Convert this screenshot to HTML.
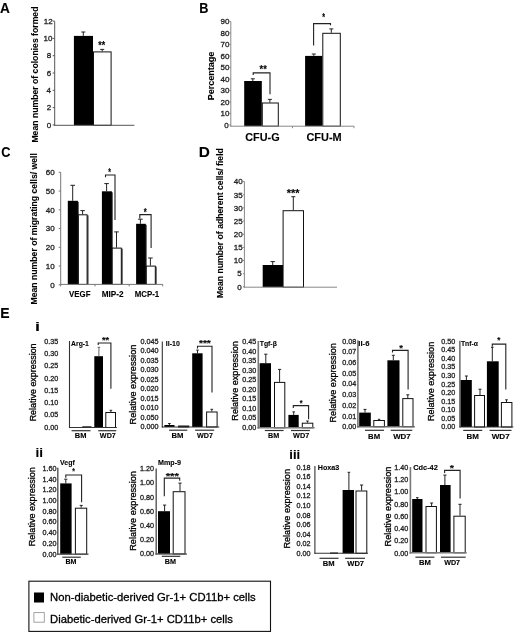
<!DOCTYPE html>
<html><head><meta charset="utf-8"><style>
html,body{margin:0;padding:0;background:#fff;}
svg{display:block;font-family:"Liberation Sans",sans-serif;will-change:transform;}
</style></head><body>
<svg width="520" height="632" viewBox="0 0 520 632">
<rect width="520" height="632" fill="#fff"/>
<text x="-0.09" y="13.27" font-size="14" font-weight="bold" fill="#000" textLength="9.9" lengthAdjust="spacingAndGlyphs" stroke="#000" stroke-width="0.1">A</text>
<text x="199.13" y="12.73" font-size="14" font-weight="bold" fill="#000" textLength="9.17" lengthAdjust="spacingAndGlyphs" stroke="#000" stroke-width="0.1">B</text>
<text x="1.35" y="156.82" font-size="14" font-weight="bold" fill="#000" textLength="9.23" lengthAdjust="spacingAndGlyphs" stroke="#000" stroke-width="0.1">C</text>
<text x="198.86" y="157.12" font-size="14" font-weight="bold" fill="#000" textLength="11.1" lengthAdjust="spacingAndGlyphs" stroke="#000" stroke-width="0.1">D</text>
<text x="0.35" y="317.57" font-size="14" font-weight="bold" fill="#000" textLength="9.34" lengthAdjust="spacingAndGlyphs" stroke="#000" stroke-width="0.1">E</text>
<text x="35" y="330.65" font-size="13" font-weight="bold" fill="#000" textLength="5.02" lengthAdjust="spacingAndGlyphs" stroke="#000" stroke-width="0.1">i</text>
<text x="35.52" y="456.75" font-size="13" font-weight="bold" fill="#000" textLength="7.49" lengthAdjust="spacingAndGlyphs" stroke="#000" stroke-width="0.1">ii</text>
<text x="289.35" y="459.2" font-size="13" font-weight="bold" fill="#000" textLength="10.84" lengthAdjust="spacingAndGlyphs" stroke="#000" stroke-width="0.1">iii</text>
<text x="43.7" y="23.9" font-size="8" fill="#222" stroke="#222" stroke-width="0.3">12</text>
<line x1="52.7" y1="21.1" x2="54.7" y2="21.1" stroke="#555" stroke-width="1"/>
<text x="43.6" y="41.15" font-size="8" fill="#222" stroke="#222" stroke-width="0.3">10</text>
<line x1="52.7" y1="38.4" x2="54.7" y2="38.4" stroke="#555" stroke-width="1"/>
<text x="46.65" y="58.45" font-size="8" fill="#222" stroke="#222" stroke-width="0.3">8</text>
<line x1="52.7" y1="55.7" x2="54.7" y2="55.7" stroke="#555" stroke-width="1"/>
<text x="46.7" y="75.75" font-size="8" fill="#222" stroke="#222" stroke-width="0.3">6</text>
<line x1="52.7" y1="73" x2="54.7" y2="73" stroke="#555" stroke-width="1"/>
<text x="46.55" y="93.05" font-size="8" fill="#222" stroke="#222" stroke-width="0.3">4</text>
<line x1="52.7" y1="90.3" x2="54.7" y2="90.3" stroke="#555" stroke-width="1"/>
<text x="46.75" y="110.4" font-size="8" fill="#222" stroke="#222" stroke-width="0.3">2</text>
<line x1="52.7" y1="107.6" x2="54.7" y2="107.6" stroke="#555" stroke-width="1"/>
<text x="46.65" y="127.65" font-size="8" fill="#222" stroke="#222" stroke-width="0.3">0</text>
<line x1="52.7" y1="124.9" x2="54.7" y2="124.9" stroke="#555" stroke-width="1"/>
<rect x="73.9" y="35.9" width="19.1" height="89.4" fill="#000"/>
<rect x="93.5" y="51.9" width="17.6" height="73.4" fill="#fff" stroke="#111" stroke-width="1"/>
<line x1="83.3" y1="32" x2="83.3" y2="35.9" stroke="#222" stroke-width="1"/>
<line x1="81.3" y1="32" x2="85.3" y2="32" stroke="#222" stroke-width="1"/>
<line x1="102.2" y1="49.4" x2="102.2" y2="51.4" stroke="#222" stroke-width="1"/>
<line x1="100.2" y1="49.4" x2="104.2" y2="49.4" stroke="#222" stroke-width="1"/>
<line x1="54.7" y1="21.3" x2="54.7" y2="125.8" stroke="#555" stroke-width="1"/>
<line x1="54.2" y1="125.3" x2="134.4" y2="125.3" stroke="#555" stroke-width="1"/>
<text x="98.25" y="48.65" font-size="10" font-weight="bold" fill="#000" textLength="6.88" lengthAdjust="spacingAndGlyphs" stroke="#000" stroke-width="0.1">**</text>
<text transform="translate(37.65 142.59) rotate(-90)" font-size="8.8" font-weight="bold" fill="#000" textLength="136.01" lengthAdjust="spacingAndGlyphs" stroke="#000" stroke-width="0.1">Mean number of colonies formed</text>
<text x="220.6" y="24.25" font-size="8" fill="#222" stroke="#222" stroke-width="0.3">90</text>
<line x1="229.3" y1="21.5" x2="230.8" y2="21.5" stroke="#888" stroke-width="1"/>
<text x="220.6" y="35.75" font-size="8" fill="#222" stroke="#222" stroke-width="0.3">80</text>
<line x1="229.3" y1="33" x2="230.8" y2="33" stroke="#888" stroke-width="1"/>
<text x="220.6" y="47.25" font-size="8" fill="#222" stroke="#222" stroke-width="0.3">70</text>
<line x1="229.3" y1="44.5" x2="230.8" y2="44.5" stroke="#888" stroke-width="1"/>
<text x="220.6" y="58.75" font-size="8" fill="#222" stroke="#222" stroke-width="0.3">60</text>
<line x1="229.3" y1="56" x2="230.8" y2="56" stroke="#888" stroke-width="1"/>
<text x="220.6" y="70.25" font-size="8" fill="#222" stroke="#222" stroke-width="0.3">50</text>
<line x1="229.3" y1="67.5" x2="230.8" y2="67.5" stroke="#888" stroke-width="1"/>
<text x="220.6" y="81.75" font-size="8" fill="#222" stroke="#222" stroke-width="0.3">40</text>
<line x1="229.3" y1="79" x2="230.8" y2="79" stroke="#888" stroke-width="1"/>
<text x="220.6" y="93.25" font-size="8" fill="#222" stroke="#222" stroke-width="0.3">30</text>
<line x1="229.3" y1="90.5" x2="230.8" y2="90.5" stroke="#888" stroke-width="1"/>
<text x="220.6" y="104.75" font-size="8" fill="#222" stroke="#222" stroke-width="0.3">20</text>
<line x1="229.3" y1="102" x2="230.8" y2="102" stroke="#888" stroke-width="1"/>
<text x="220.6" y="116.25" font-size="8" fill="#222" stroke="#222" stroke-width="0.3">10</text>
<line x1="229.3" y1="113.5" x2="230.8" y2="113.5" stroke="#888" stroke-width="1"/>
<text x="224.25" y="127.75" font-size="8" fill="#222" stroke="#222" stroke-width="0.3">0</text>
<line x1="229.3" y1="125" x2="230.8" y2="125" stroke="#888" stroke-width="1"/>
<rect x="244.2" y="81" width="17.6" height="45.2" fill="#000"/>
<rect x="262.3" y="103" width="16" height="23.2" fill="#fff" stroke="#111" stroke-width="1"/>
<rect x="305.1" y="55.9" width="17.2" height="70.3" fill="#000"/>
<rect x="322.8" y="33.3" width="17.5" height="92.9" fill="#fff" stroke="#111" stroke-width="1"/>
<line x1="252.8" y1="78.8" x2="252.8" y2="81" stroke="#222" stroke-width="1"/>
<line x1="250.8" y1="78.8" x2="254.8" y2="78.8" stroke="#222" stroke-width="1"/>
<line x1="269.9" y1="99.4" x2="269.9" y2="102.5" stroke="#222" stroke-width="1"/>
<line x1="267.9" y1="99.4" x2="271.9" y2="99.4" stroke="#222" stroke-width="1"/>
<line x1="313.8" y1="54" x2="313.8" y2="55.9" stroke="#222" stroke-width="1"/>
<line x1="311.8" y1="54" x2="315.8" y2="54" stroke="#222" stroke-width="1"/>
<line x1="331.3" y1="28.9" x2="331.3" y2="32.8" stroke="#222" stroke-width="1"/>
<line x1="329.3" y1="28.9" x2="333.3" y2="28.9" stroke="#222" stroke-width="1"/>
<line x1="230.8" y1="21.5" x2="230.8" y2="126.7" stroke="#888" stroke-width="1"/>
<line x1="230.3" y1="126.2" x2="354" y2="126.2" stroke="#888" stroke-width="1"/>
<line x1="292.5" y1="126.2" x2="292.5" y2="128.2" stroke="#888" stroke-width="1"/>
<line x1="354" y1="126.2" x2="354" y2="128.2" stroke="#888" stroke-width="1"/>
<polyline points="253.2,75 253.2,72.9 270,72.9 270,94.3" fill="none" stroke="#222" stroke-width="1.1"/>
<polyline points="313.6,45.4 313.6,23.6 330.5,23.6 330.5,25.2" fill="none" stroke="#222" stroke-width="1.1"/>
<text x="259.55" y="73.3" font-size="10" font-weight="bold" fill="#000" textLength="7.18" lengthAdjust="spacingAndGlyphs" stroke="#000" stroke-width="0.1">**</text>
<text x="322.25" y="21.25" font-size="10" font-weight="bold" fill="#000" textLength="2.79" lengthAdjust="spacingAndGlyphs" stroke="#000" stroke-width="0.1">*</text>
<text transform="translate(214.45 100.24) rotate(-90)" font-size="9.2" font-weight="bold" fill="#000" textLength="48.64" lengthAdjust="spacingAndGlyphs" stroke="#000" stroke-width="0.1">Percentage</text>
<text x="245.24" y="140.52" font-size="10.5" font-weight="bold" fill="#000" textLength="34.43" lengthAdjust="spacingAndGlyphs" stroke="#000" stroke-width="0.1">CFU-G</text>
<text x="306.43" y="140.52" font-size="10.5" font-weight="bold" fill="#000" textLength="35.22" lengthAdjust="spacingAndGlyphs" stroke="#000" stroke-width="0.1">CFU-M</text>
<text x="45.8" y="175.05" font-size="8" fill="#222" stroke="#222" stroke-width="0.3">60</text>
<line x1="58.7" y1="172.3" x2="60.7" y2="172.3" stroke="#777" stroke-width="1"/>
<text x="45.8" y="193.8" font-size="8" fill="#222" stroke="#222" stroke-width="0.3">50</text>
<line x1="58.7" y1="191.05" x2="60.7" y2="191.05" stroke="#777" stroke-width="1"/>
<text x="45.8" y="212.55" font-size="8" fill="#222" stroke="#222" stroke-width="0.3">40</text>
<line x1="58.7" y1="209.8" x2="60.7" y2="209.8" stroke="#777" stroke-width="1"/>
<text x="45.8" y="231.3" font-size="8" fill="#222" stroke="#222" stroke-width="0.3">30</text>
<line x1="58.7" y1="228.55" x2="60.7" y2="228.55" stroke="#777" stroke-width="1"/>
<text x="45.8" y="250.05" font-size="8" fill="#222" stroke="#222" stroke-width="0.3">20</text>
<line x1="58.7" y1="247.3" x2="60.7" y2="247.3" stroke="#777" stroke-width="1"/>
<text x="45.8" y="268.8" font-size="8" fill="#222" stroke="#222" stroke-width="0.3">10</text>
<line x1="58.7" y1="266.05" x2="60.7" y2="266.05" stroke="#777" stroke-width="1"/>
<text x="50.25" y="287.55" font-size="8" fill="#222" stroke="#222" stroke-width="0.3">0</text>
<line x1="58.7" y1="284.8" x2="60.7" y2="284.8" stroke="#777" stroke-width="1"/>
<rect x="68.8" y="201.8" width="10.1" height="82.6" fill="#555"/>
<rect x="67.8" y="200.8" width="10.1" height="83.6" fill="#000"/>
<rect x="78.9" y="215.3" width="9.7" height="69.1" fill="#555"/>
<rect x="78.4" y="214.8" width="8.7" height="69.6" fill="#fff" stroke="#111" stroke-width="1"/>
<rect x="102.9" y="192.3" width="10" height="92.1" fill="#555"/>
<rect x="101.9" y="191.3" width="10" height="93.1" fill="#000"/>
<rect x="112.7" y="248.6" width="10.1" height="35.8" fill="#555"/>
<rect x="112.2" y="248.1" width="9.1" height="36.3" fill="#fff" stroke="#111" stroke-width="1"/>
<rect x="137.1" y="224.8" width="9.7" height="59.6" fill="#555"/>
<rect x="136.1" y="223.8" width="9.7" height="60.6" fill="#000"/>
<rect x="146.8" y="266.6" width="10" height="17.8" fill="#555"/>
<rect x="146.3" y="266.1" width="9" height="18.3" fill="#fff" stroke="#111" stroke-width="1"/>
<line x1="72.7" y1="185.3" x2="72.7" y2="200.8" stroke="#222" stroke-width="1"/>
<line x1="70.4" y1="185.3" x2="75" y2="185.3" stroke="#222" stroke-width="1"/>
<line x1="82.6" y1="210.6" x2="82.6" y2="214.3" stroke="#222" stroke-width="1"/>
<line x1="80.4" y1="210.6" x2="84.8" y2="210.6" stroke="#222" stroke-width="1"/>
<line x1="106.6" y1="183.6" x2="106.6" y2="191.3" stroke="#222" stroke-width="1"/>
<line x1="104.3" y1="183.6" x2="108.9" y2="183.6" stroke="#222" stroke-width="1"/>
<line x1="116.5" y1="231.9" x2="116.5" y2="247.6" stroke="#222" stroke-width="1"/>
<line x1="114.2" y1="231.9" x2="118.8" y2="231.9" stroke="#222" stroke-width="1"/>
<line x1="140.4" y1="219.2" x2="140.4" y2="223.8" stroke="#222" stroke-width="1"/>
<line x1="138.1" y1="219.2" x2="142.7" y2="219.2" stroke="#222" stroke-width="1"/>
<line x1="150.4" y1="258" x2="150.4" y2="265.6" stroke="#222" stroke-width="1"/>
<line x1="148.1" y1="258" x2="152.7" y2="258" stroke="#222" stroke-width="1"/>
<line x1="60.7" y1="172.3" x2="60.7" y2="284.9" stroke="#777" stroke-width="1"/>
<line x1="60.2" y1="284.4" x2="162.7" y2="284.4" stroke="#777" stroke-width="1"/>
<line x1="60.7" y1="284.4" x2="60.7" y2="286.4" stroke="#777" stroke-width="1"/>
<line x1="95" y1="284.4" x2="95" y2="286.4" stroke="#777" stroke-width="1"/>
<line x1="129.2" y1="284.4" x2="129.2" y2="286.4" stroke="#777" stroke-width="1"/>
<line x1="162.7" y1="284.4" x2="162.7" y2="286.4" stroke="#777" stroke-width="1"/>
<polyline points="105.5,177.2 105.5,175 115,175 115,220" fill="none" stroke="#222" stroke-width="1.1"/>
<polyline points="139.8,218.5 139.8,214.6 151.1,214.6 151.1,248" fill="none" stroke="#222" stroke-width="1.1"/>
<text x="108.25" y="176.35" font-size="10" font-weight="bold" fill="#000" textLength="2.69" lengthAdjust="spacingAndGlyphs" stroke="#000" stroke-width="0.1">*</text>
<text x="143.75" y="215.6" font-size="10" font-weight="bold" fill="#000" textLength="2.99" lengthAdjust="spacingAndGlyphs" stroke="#000" stroke-width="0.1">*</text>
<text transform="translate(36.95 304.49) rotate(-90)" font-size="8.8" font-weight="bold" fill="#000" textLength="151.42" lengthAdjust="spacingAndGlyphs" stroke="#000" stroke-width="0.1">Mean number of migrating cells/ well</text>
<text x="69.11" y="296.92" font-size="8.8" font-weight="bold" fill="#000" textLength="21.38" lengthAdjust="spacingAndGlyphs" stroke="#000" stroke-width="0.1">VEGF</text>
<text x="101.64" y="297.32" font-size="8.8" font-weight="bold" fill="#000" textLength="21.91" lengthAdjust="spacingAndGlyphs" stroke="#000" stroke-width="0.1">MIP-2</text>
<text x="134.76" y="297.27" font-size="8.8" font-weight="bold" fill="#000" textLength="24.5" lengthAdjust="spacingAndGlyphs" stroke="#000" stroke-width="0.1">MCP-1</text>
<text x="233.7" y="184.35" font-size="8" fill="#222" stroke="#222" stroke-width="0.3">40</text>
<line x1="242.9" y1="181.6" x2="244.4" y2="181.6" stroke="#888" stroke-width="1"/>
<text x="233.7" y="197.5" font-size="8" fill="#222" stroke="#222" stroke-width="0.3">35</text>
<line x1="242.9" y1="194.75" x2="244.4" y2="194.75" stroke="#888" stroke-width="1"/>
<text x="233.7" y="210.65" font-size="8" fill="#222" stroke="#222" stroke-width="0.3">30</text>
<line x1="242.9" y1="207.9" x2="244.4" y2="207.9" stroke="#888" stroke-width="1"/>
<text x="233.7" y="223.8" font-size="8" fill="#222" stroke="#222" stroke-width="0.3">25</text>
<line x1="242.9" y1="221.05" x2="244.4" y2="221.05" stroke="#888" stroke-width="1"/>
<text x="233.7" y="236.95" font-size="8" fill="#222" stroke="#222" stroke-width="0.3">20</text>
<line x1="242.9" y1="234.2" x2="244.4" y2="234.2" stroke="#888" stroke-width="1"/>
<text x="233.7" y="250.05" font-size="8" fill="#222" stroke="#222" stroke-width="0.3">15</text>
<line x1="242.9" y1="247.35" x2="244.4" y2="247.35" stroke="#888" stroke-width="1"/>
<text x="233.7" y="263.25" font-size="8" fill="#222" stroke="#222" stroke-width="0.3">10</text>
<line x1="242.9" y1="260.5" x2="244.4" y2="260.5" stroke="#888" stroke-width="1"/>
<text x="237.15" y="276.35" font-size="8" fill="#222" stroke="#222" stroke-width="0.3">5</text>
<line x1="242.9" y1="273.65" x2="244.4" y2="273.65" stroke="#888" stroke-width="1"/>
<text x="237.15" y="289.55" font-size="8" fill="#222" stroke="#222" stroke-width="0.3">0</text>
<line x1="242.9" y1="286.8" x2="244.4" y2="286.8" stroke="#888" stroke-width="1"/>
<rect x="262.7" y="265" width="20.3" height="22.2" fill="#000"/>
<rect x="283.1" y="210.7" width="20.4" height="76.5" fill="#fff" stroke="#111" stroke-width="1"/>
<line x1="272.7" y1="261.6" x2="272.7" y2="265" stroke="#222" stroke-width="1"/>
<line x1="270.5" y1="261.6" x2="274.9" y2="261.6" stroke="#222" stroke-width="1"/>
<line x1="293.3" y1="196.7" x2="293.3" y2="210.2" stroke="#222" stroke-width="1"/>
<line x1="291.3" y1="196.7" x2="295.3" y2="196.7" stroke="#222" stroke-width="1"/>
<line x1="244.4" y1="181.5" x2="244.4" y2="287.7" stroke="#888" stroke-width="1"/>
<line x1="243.9" y1="287.2" x2="337" y2="287.2" stroke="#888" stroke-width="1"/>
<text x="286.75" y="197.05" font-size="10" font-weight="bold" fill="#000" textLength="12.87" lengthAdjust="spacingAndGlyphs" stroke="#000" stroke-width="0.1">***</text>
<text transform="translate(223.25 297.99) rotate(-90)" font-size="8.8" font-weight="bold" fill="#000" textLength="149.81" lengthAdjust="spacingAndGlyphs" stroke="#000" stroke-width="0.1">Mean number of adherent cells/ field</text>
<text x="44.15" y="344" font-size="7.2" fill="#222" stroke="#222" stroke-width="0.3">0.35</text>
<text x="44.15" y="356.24" font-size="7.2" fill="#222" stroke="#222" stroke-width="0.3">0.30</text>
<text x="44.15" y="368.49" font-size="7.2" fill="#222" stroke="#222" stroke-width="0.3">0.25</text>
<text x="44.15" y="380.73" font-size="7.2" fill="#222" stroke="#222" stroke-width="0.3">0.20</text>
<text x="44.15" y="392.97" font-size="7.2" fill="#222" stroke="#222" stroke-width="0.3">0.15</text>
<text x="44.15" y="405.21" font-size="7.2" fill="#222" stroke="#222" stroke-width="0.3">0.10</text>
<text x="44.15" y="417.46" font-size="7.2" fill="#222" stroke="#222" stroke-width="0.3">0.05</text>
<text x="44.15" y="429.7" font-size="7.2" fill="#222" stroke="#222" stroke-width="0.3">0.00</text>
<rect x="82.8" y="426.8" width="8.2" height="0.7" fill="#fff" stroke="#111" stroke-width="1"/>
<rect x="94.3" y="356.2" width="8.7" height="71.3" fill="#000"/>
<rect x="105.8" y="412.5" width="9.7" height="15" fill="#fff" stroke="#111" stroke-width="1"/>
<line x1="98.9" y1="347.3" x2="98.9" y2="356.2" stroke="#666" stroke-width="1"/>
<line x1="97.6" y1="347.3" x2="100.2" y2="347.3" stroke="#666" stroke-width="1"/>
<line x1="110.9" y1="410.3" x2="110.9" y2="412" stroke="#222" stroke-width="1"/>
<line x1="109.6" y1="410.3" x2="112.2" y2="410.3" stroke="#222" stroke-width="1"/>
<line x1="69.5" y1="341" x2="69.5" y2="428.05" stroke="#333" stroke-width="1.1"/>
<line x1="68.95" y1="427.5" x2="116.9" y2="427.5" stroke="#333" stroke-width="1.1"/>
<polyline points="98.2,345 98.2,343 110.9,343 110.9,388.7" fill="none" stroke="#222" stroke-width="1.1"/>
<text x="101.95" y="343.42" font-size="9" font-weight="bold" fill="#000" textLength="7.2" lengthAdjust="spacingAndGlyphs" stroke="#000" stroke-width="0.1">**</text>
<text x="71.1" y="345.7" font-size="7" font-weight="bold" fill="#000" textLength="17.82" lengthAdjust="spacingAndGlyphs" stroke="#000" stroke-width="0.1">Arg-1</text>
<text x="74.77" y="437.95" font-size="7" font-weight="bold" fill="#000" textLength="11.65" lengthAdjust="spacingAndGlyphs" stroke="#000" stroke-width="0.1">BM</text>
<text x="99.85" y="438" font-size="7" font-weight="bold" fill="#000" textLength="16.01" lengthAdjust="spacingAndGlyphs" stroke="#000" stroke-width="0.1">WD7</text>
<text transform="translate(35.55 421.34) rotate(-90)" font-size="9" font-weight="normal" fill="#000" textLength="77.93" lengthAdjust="spacingAndGlyphs" stroke="#000" stroke-width="0.3">Relative expression</text>
<line x1="71.6" y1="430.7" x2="90.5" y2="430.7" stroke="#333" stroke-width="1.2"/>
<line x1="98.2" y1="430.7" x2="116.3" y2="430.7" stroke="#333" stroke-width="1.2"/>
<text x="140.45" y="343.8" font-size="7.2" fill="#222" stroke="#222" stroke-width="0.3">0.045</text>
<text x="140.45" y="353.3" font-size="7.2" fill="#222" stroke="#222" stroke-width="0.3">0.040</text>
<text x="140.45" y="362.8" font-size="7.2" fill="#222" stroke="#222" stroke-width="0.3">0.035</text>
<text x="140.45" y="372.3" font-size="7.2" fill="#222" stroke="#222" stroke-width="0.3">0.030</text>
<text x="140.45" y="381.8" font-size="7.2" fill="#222" stroke="#222" stroke-width="0.3">0.025</text>
<text x="140.45" y="391.3" font-size="7.2" fill="#222" stroke="#222" stroke-width="0.3">0.020</text>
<text x="140.45" y="400.8" font-size="7.2" fill="#222" stroke="#222" stroke-width="0.3">0.015</text>
<text x="140.45" y="410.3" font-size="7.2" fill="#222" stroke="#222" stroke-width="0.3">0.010</text>
<text x="140.45" y="419.8" font-size="7.2" fill="#222" stroke="#222" stroke-width="0.3">0.050</text>
<text x="140.45" y="429.3" font-size="7.2" fill="#222" stroke="#222" stroke-width="0.3">0.000</text>
<rect x="164.4" y="425" width="10.1" height="2" fill="#000"/>
<rect x="178.6" y="426" width="10.2" height="1" fill="#fff" stroke="#111" stroke-width="1"/>
<rect x="192.2" y="353.3" width="10.4" height="73.7" fill="#000"/>
<rect x="206.6" y="412" width="10.5" height="15" fill="#fff" stroke="#111" stroke-width="1"/>
<line x1="169.4" y1="423.5" x2="169.4" y2="425" stroke="#222" stroke-width="1"/>
<line x1="168.1" y1="423.5" x2="170.7" y2="423.5" stroke="#222" stroke-width="1"/>
<line x1="197.5" y1="350.1" x2="197.5" y2="353.3" stroke="#222" stroke-width="1"/>
<line x1="196.2" y1="350.1" x2="198.8" y2="350.1" stroke="#222" stroke-width="1"/>
<line x1="211.8" y1="409.3" x2="211.8" y2="411.5" stroke="#222" stroke-width="1"/>
<line x1="210.5" y1="409.3" x2="213.1" y2="409.3" stroke="#222" stroke-width="1"/>
<line x1="162.3" y1="341.5" x2="162.3" y2="427.55" stroke="#333" stroke-width="1.1"/>
<line x1="161.75" y1="427" x2="219.3" y2="427" stroke="#333" stroke-width="1.1"/>
<polyline points="197.5,348.5 197.5,346.3 212,346.3 212,392.5" fill="none" stroke="#222" stroke-width="1.1"/>
<text x="198.95" y="346.17" font-size="9" font-weight="bold" fill="#000" textLength="11.91" lengthAdjust="spacingAndGlyphs" stroke="#000" stroke-width="0.1">***</text>
<text x="165.8" y="346.05" font-size="7" font-weight="bold" fill="#000" textLength="14.01" lengthAdjust="spacingAndGlyphs" stroke="#000" stroke-width="0.1">Il-10</text>
<text x="171.56" y="437.85" font-size="7" font-weight="bold" fill="#000" textLength="11.98" lengthAdjust="spacingAndGlyphs" stroke="#000" stroke-width="0.1">BM</text>
<text x="196.95" y="437.85" font-size="7" font-weight="bold" fill="#000" textLength="16.01" lengthAdjust="spacingAndGlyphs" stroke="#000" stroke-width="0.1">WD7</text>
<text transform="translate(135.55 424.46) rotate(-90)" font-size="9" font-weight="normal" fill="#000" textLength="79.76" lengthAdjust="spacingAndGlyphs" stroke="#000" stroke-width="0.3">Relative expression</text>
<line x1="169.1" y1="430.2" x2="187.3" y2="430.2" stroke="#333" stroke-width="1.2"/>
<line x1="195.1" y1="430.2" x2="214.2" y2="430.2" stroke="#333" stroke-width="1.2"/>
<text x="242.25" y="344" font-size="7.2" fill="#222" stroke="#222" stroke-width="0.3">0.45</text>
<text x="242.25" y="353.5" font-size="7.2" fill="#222" stroke="#222" stroke-width="0.3">0.40</text>
<text x="242.25" y="363" font-size="7.2" fill="#222" stroke="#222" stroke-width="0.3">0.35</text>
<text x="242.25" y="372.5" font-size="7.2" fill="#222" stroke="#222" stroke-width="0.3">0.30</text>
<text x="242.25" y="382" font-size="7.2" fill="#222" stroke="#222" stroke-width="0.3">0.25</text>
<text x="242.25" y="391.5" font-size="7.2" fill="#222" stroke="#222" stroke-width="0.3">0.20</text>
<text x="242.25" y="401" font-size="7.2" fill="#222" stroke="#222" stroke-width="0.3">0.15</text>
<text x="242.25" y="410.5" font-size="7.2" fill="#222" stroke="#222" stroke-width="0.3">0.10</text>
<text x="242.25" y="420" font-size="7.2" fill="#222" stroke="#222" stroke-width="0.3">0.05</text>
<text x="242.25" y="429.5" font-size="7.2" fill="#222" stroke="#222" stroke-width="0.3">0.00</text>
<rect x="259.6" y="363.2" width="11.4" height="64.6" fill="#000"/>
<rect x="274.5" y="382.4" width="10.3" height="45.4" fill="#fff" stroke="#111" stroke-width="1"/>
<rect x="288.4" y="414.9" width="10.3" height="12.9" fill="#000"/>
<rect x="302.3" y="423.2" width="10.5" height="4.6" fill="#fff" stroke="#111" stroke-width="1"/>
<line x1="265.8" y1="354.2" x2="265.8" y2="363.2" stroke="#222" stroke-width="1"/>
<line x1="264.2" y1="354.2" x2="267.4" y2="354.2" stroke="#222" stroke-width="1"/>
<line x1="279.6" y1="369.4" x2="279.6" y2="381.9" stroke="#222" stroke-width="1"/>
<line x1="278" y1="369.4" x2="281.2" y2="369.4" stroke="#222" stroke-width="1"/>
<line x1="293.7" y1="411.9" x2="293.7" y2="414.9" stroke="#222" stroke-width="1"/>
<line x1="292.4" y1="411.9" x2="295" y2="411.9" stroke="#222" stroke-width="1"/>
<line x1="307.5" y1="421" x2="307.5" y2="422.7" stroke="#222" stroke-width="1"/>
<line x1="306.2" y1="421" x2="308.8" y2="421" stroke="#222" stroke-width="1"/>
<line x1="258.3" y1="341" x2="258.3" y2="428.6" stroke="#777" stroke-width="1.6"/>
<line x1="257.5" y1="427.8" x2="314.6" y2="427.8" stroke="#777" stroke-width="1.6"/>
<polyline points="293.3,407.9 293.3,405.6 308.6,405.6 308.6,419.3" fill="none" stroke="#222" stroke-width="1.1"/>
<text x="299.75" y="405.82" font-size="9" font-weight="bold" fill="#000" textLength="2.8" lengthAdjust="spacingAndGlyphs" stroke="#000" stroke-width="0.1">*</text>
<text x="259.7" y="345.73" font-size="7" font-weight="bold" fill="#000" textLength="17.18" lengthAdjust="spacingAndGlyphs" stroke="#000" stroke-width="0.1">Tgf-β</text>
<text x="267.99" y="438.25" font-size="7" font-weight="bold" fill="#000" textLength="11.21" lengthAdjust="spacingAndGlyphs" stroke="#000" stroke-width="0.1">BM</text>
<text x="293.05" y="438.25" font-size="7" font-weight="bold" fill="#000" textLength="16.22" lengthAdjust="spacingAndGlyphs" stroke="#000" stroke-width="0.1">WD7</text>
<text transform="translate(237.75 420.66) rotate(-90)" font-size="9" font-weight="normal" fill="#000" textLength="79.45" lengthAdjust="spacingAndGlyphs" stroke="#000" stroke-width="0.3">Relative expression</text>
<line x1="264.8" y1="430.5" x2="283.6" y2="430.5" stroke="#333" stroke-width="1.2"/>
<line x1="291" y1="430.5" x2="309.9" y2="430.5" stroke="#333" stroke-width="1.2"/>
<text x="342.3" y="343.6" font-size="7.2" fill="#222" stroke="#222" stroke-width="0.3">0.08</text>
<text x="342.35" y="354.3" font-size="7.2" fill="#222" stroke="#222" stroke-width="0.3">0.07</text>
<text x="342.3" y="365" font-size="7.2" fill="#222" stroke="#222" stroke-width="0.3">0.06</text>
<text x="342.25" y="375.7" font-size="7.2" fill="#222" stroke="#222" stroke-width="0.3">0.05</text>
<text x="342.2" y="386.4" font-size="7.2" fill="#222" stroke="#222" stroke-width="0.3">0.04</text>
<text x="342.3" y="397.1" font-size="7.2" fill="#222" stroke="#222" stroke-width="0.3">0.03</text>
<text x="342.35" y="407.8" font-size="7.2" fill="#222" stroke="#222" stroke-width="0.3">0.02</text>
<text x="342.3" y="418.5" font-size="7.2" fill="#222" stroke="#222" stroke-width="0.3">0.01</text>
<text x="342.25" y="429.2" font-size="7.2" fill="#222" stroke="#222" stroke-width="0.3">0.00</text>
<rect x="359.2" y="412.6" width="11.6" height="14.1" fill="#000"/>
<rect x="373.8" y="420.5" width="10.6" height="6.2" fill="#fff" stroke="#111" stroke-width="1"/>
<rect x="387.4" y="360.3" width="12.1" height="66.4" fill="#000"/>
<rect x="402.8" y="398.6" width="10.2" height="28.1" fill="#fff" stroke="#111" stroke-width="1"/>
<line x1="365" y1="409.4" x2="365" y2="412.6" stroke="#222" stroke-width="1"/>
<line x1="363.5" y1="409.4" x2="366.5" y2="409.4" stroke="#222" stroke-width="1"/>
<line x1="379.1" y1="419.3" x2="379.1" y2="420" stroke="#222" stroke-width="1"/>
<line x1="377.9" y1="419.3" x2="380.3" y2="419.3" stroke="#222" stroke-width="1"/>
<line x1="393.3" y1="355.3" x2="393.3" y2="360.3" stroke="#222" stroke-width="1"/>
<line x1="391.8" y1="355.3" x2="394.8" y2="355.3" stroke="#222" stroke-width="1"/>
<line x1="407.8" y1="394.8" x2="407.8" y2="398.1" stroke="#222" stroke-width="1"/>
<line x1="406.3" y1="394.8" x2="409.3" y2="394.8" stroke="#222" stroke-width="1"/>
<line x1="357.9" y1="340.2" x2="357.9" y2="427.4" stroke="#666" stroke-width="1.4"/>
<line x1="357.2" y1="426.7" x2="414.8" y2="426.7" stroke="#666" stroke-width="1.4"/>
<polyline points="392.5,352.5 392.5,350.4 408.1,350.4 408.1,389.5" fill="none" stroke="#222" stroke-width="1.1"/>
<text x="399.25" y="350.72" font-size="9" font-weight="bold" fill="#000" textLength="3.7" lengthAdjust="spacingAndGlyphs" stroke="#000" stroke-width="0.1">*</text>
<text x="358.36" y="345.65" font-size="7" font-weight="bold" fill="#000" textLength="11.08" lengthAdjust="spacingAndGlyphs" stroke="#000" stroke-width="0.1">Il-6</text>
<text x="368.05" y="438.75" font-size="7" font-weight="bold" fill="#000" textLength="12.08" lengthAdjust="spacingAndGlyphs" stroke="#000" stroke-width="0.1">BM</text>
<text x="393.15" y="438.75" font-size="7" font-weight="bold" fill="#000" textLength="17.54" lengthAdjust="spacingAndGlyphs" stroke="#000" stroke-width="0.1">WD7</text>
<text transform="translate(336.05 422.46) rotate(-90)" font-size="9" font-weight="normal" fill="#000" textLength="79.25" lengthAdjust="spacingAndGlyphs" stroke="#000" stroke-width="0.3">Relative expression</text>
<line x1="365" y1="430.3" x2="384" y2="430.3" stroke="#333" stroke-width="1.2"/>
<line x1="390.7" y1="430.3" x2="412.3" y2="430.3" stroke="#333" stroke-width="1.2"/>
<text x="441.25" y="343.6" font-size="7.2" fill="#222" stroke="#222" stroke-width="0.3">0.50</text>
<text x="441.25" y="352.18" font-size="7.2" fill="#222" stroke="#222" stroke-width="0.3">0.45</text>
<text x="441.25" y="360.76" font-size="7.2" fill="#222" stroke="#222" stroke-width="0.3">0.40</text>
<text x="441.25" y="369.34" font-size="7.2" fill="#222" stroke="#222" stroke-width="0.3">0.35</text>
<text x="441.25" y="377.92" font-size="7.2" fill="#222" stroke="#222" stroke-width="0.3">0.30</text>
<text x="441.25" y="386.5" font-size="7.2" fill="#222" stroke="#222" stroke-width="0.3">0.25</text>
<text x="441.25" y="395.08" font-size="7.2" fill="#222" stroke="#222" stroke-width="0.3">0.20</text>
<text x="441.25" y="403.66" font-size="7.2" fill="#222" stroke="#222" stroke-width="0.3">0.15</text>
<text x="441.25" y="412.24" font-size="7.2" fill="#222" stroke="#222" stroke-width="0.3">0.10</text>
<text x="441.25" y="420.82" font-size="7.2" fill="#222" stroke="#222" stroke-width="0.3">0.05</text>
<text x="441.25" y="429.4" font-size="7.2" fill="#222" stroke="#222" stroke-width="0.3">0.00</text>
<rect x="460.5" y="380" width="11.3" height="47" fill="#000"/>
<rect x="474.6" y="395.5" width="9.9" height="31.5" fill="#fff" stroke="#111" stroke-width="1"/>
<rect x="486.9" y="361.3" width="11.8" height="65.7" fill="#000"/>
<rect x="501.4" y="402.5" width="10.5" height="24.5" fill="#fff" stroke="#111" stroke-width="1"/>
<line x1="466.4" y1="376" x2="466.4" y2="380" stroke="#222" stroke-width="1"/>
<line x1="464.9" y1="376" x2="467.9" y2="376" stroke="#222" stroke-width="1"/>
<line x1="480" y1="389.2" x2="480" y2="395" stroke="#222" stroke-width="1"/>
<line x1="478.5" y1="389.2" x2="481.5" y2="389.2" stroke="#222" stroke-width="1"/>
<line x1="492.3" y1="347.3" x2="492.3" y2="361.3" stroke="#222" stroke-width="1"/>
<line x1="491" y1="347.3" x2="493.6" y2="347.3" stroke="#222" stroke-width="1"/>
<line x1="506.5" y1="399.8" x2="506.5" y2="402" stroke="#222" stroke-width="1"/>
<line x1="505.2" y1="399.8" x2="507.8" y2="399.8" stroke="#222" stroke-width="1"/>
<line x1="459.9" y1="340.8" x2="459.9" y2="427.55" stroke="#333" stroke-width="1.1"/>
<line x1="459.35" y1="427" x2="513.3" y2="427" stroke="#333" stroke-width="1.1"/>
<polyline points="492.3,346.8 492.3,344.1 505.8,344.1 505.8,389.5" fill="none" stroke="#222" stroke-width="1.1"/>
<text x="497.15" y="343.38" font-size="9" font-weight="bold" fill="#000" textLength="3.1" lengthAdjust="spacingAndGlyphs" stroke="#000" stroke-width="0.1">*</text>
<text x="461" y="345.95" font-size="7" font-weight="bold" fill="#000" textLength="16.91" lengthAdjust="spacingAndGlyphs" stroke="#000" stroke-width="0.1">Tnf-α</text>
<text x="466.54" y="438.75" font-size="7" font-weight="bold" fill="#000" textLength="12.41" lengthAdjust="spacingAndGlyphs" stroke="#000" stroke-width="0.1">BM</text>
<text x="491.65" y="438.75" font-size="7" font-weight="bold" fill="#000" textLength="18.05" lengthAdjust="spacingAndGlyphs" stroke="#000" stroke-width="0.1">WD7</text>
<text transform="translate(434.15 421.06) rotate(-90)" font-size="9" font-weight="normal" fill="#000" textLength="79.25" lengthAdjust="spacingAndGlyphs" stroke="#000" stroke-width="0.3">Relative expression</text>
<line x1="463.2" y1="430.4" x2="482.3" y2="430.4" stroke="#333" stroke-width="1.2"/>
<line x1="489.6" y1="430.4" x2="511.5" y2="430.4" stroke="#333" stroke-width="1.2"/>
<text x="42.45" y="470.8" font-size="7.2" fill="#222" stroke="#222" stroke-width="0.3">1.60</text>
<text x="42.45" y="481.54" font-size="7.2" fill="#222" stroke="#222" stroke-width="0.3">1.40</text>
<text x="42.45" y="492.28" font-size="7.2" fill="#222" stroke="#222" stroke-width="0.3">1.20</text>
<text x="42.45" y="503.01" font-size="7.2" fill="#222" stroke="#222" stroke-width="0.3">1.00</text>
<text x="42.45" y="513.75" font-size="7.2" fill="#222" stroke="#222" stroke-width="0.3">0.80</text>
<text x="42.45" y="524.49" font-size="7.2" fill="#222" stroke="#222" stroke-width="0.3">0.60</text>
<text x="42.45" y="535.23" font-size="7.2" fill="#222" stroke="#222" stroke-width="0.3">0.40</text>
<text x="42.45" y="545.96" font-size="7.2" fill="#222" stroke="#222" stroke-width="0.3">0.20</text>
<text x="42.45" y="556.7" font-size="7.2" fill="#222" stroke="#222" stroke-width="0.3">0.00</text>
<rect x="60.2" y="483.4" width="11.4" height="70.8" fill="#000"/>
<rect x="75.4" y="508.2" width="11.3" height="46" fill="#fff" stroke="#111" stroke-width="1"/>
<line x1="65.8" y1="479.2" x2="65.8" y2="483.4" stroke="#222" stroke-width="1"/>
<line x1="64.2" y1="479.2" x2="67.4" y2="479.2" stroke="#222" stroke-width="1"/>
<line x1="81.2" y1="505.4" x2="81.2" y2="507.7" stroke="#222" stroke-width="1"/>
<line x1="79.7" y1="505.4" x2="82.7" y2="505.4" stroke="#222" stroke-width="1"/>
<line x1="57.8" y1="467.7" x2="57.8" y2="554.9" stroke="#555" stroke-width="1.4"/>
<line x1="57.1" y1="554.2" x2="88.5" y2="554.2" stroke="#555" stroke-width="1.4"/>
<polyline points="65.8,477.7 65.8,475 81.6,475 81.6,502.3" fill="none" stroke="#222" stroke-width="1.1"/>
<text x="72.25" y="474.22" font-size="9" font-weight="bold" fill="#000" textLength="2.6" lengthAdjust="spacingAndGlyphs" stroke="#000" stroke-width="0.1">*</text>
<text x="60.1" y="465.38" font-size="7" font-weight="bold" fill="#000" textLength="14.73" lengthAdjust="spacingAndGlyphs" stroke="#000" stroke-width="0.1">Vegf</text>
<text x="65.4" y="564.3" font-size="7" font-weight="bold" fill="#000" textLength="11" lengthAdjust="spacingAndGlyphs" stroke="#000" stroke-width="0.1">BM</text>
<text transform="translate(35.15 546.26) rotate(-90)" font-size="9" font-weight="normal" fill="#000" textLength="79.15" lengthAdjust="spacingAndGlyphs" stroke="#000" stroke-width="0.3">Relative expression</text>
<line x1="62.3" y1="557.2" x2="80.8" y2="557.2" stroke="#333" stroke-width="1.2"/>
<text x="140.05" y="471.2" font-size="7.2" fill="#222" stroke="#222" stroke-width="0.3">1.20</text>
<text x="140.05" y="485.38" font-size="7.2" fill="#222" stroke="#222" stroke-width="0.3">1.00</text>
<text x="140.05" y="499.57" font-size="7.2" fill="#222" stroke="#222" stroke-width="0.3">0.80</text>
<text x="140.05" y="513.75" font-size="7.2" fill="#222" stroke="#222" stroke-width="0.3">0.60</text>
<text x="140.05" y="527.93" font-size="7.2" fill="#222" stroke="#222" stroke-width="0.3">0.40</text>
<text x="140.05" y="542.12" font-size="7.2" fill="#222" stroke="#222" stroke-width="0.3">0.20</text>
<text x="140.05" y="556.3" font-size="7.2" fill="#222" stroke="#222" stroke-width="0.3">0.00</text>
<rect x="158" y="511.2" width="12" height="42.8" fill="#000"/>
<rect x="173.2" y="491.7" width="11.8" height="62.3" fill="#fff" stroke="#111" stroke-width="1"/>
<line x1="164.6" y1="505.1" x2="164.6" y2="511.2" stroke="#222" stroke-width="1"/>
<line x1="163" y1="505.1" x2="166.2" y2="505.1" stroke="#222" stroke-width="1"/>
<line x1="180" y1="483.1" x2="180" y2="491.2" stroke="#222" stroke-width="1"/>
<line x1="178.4" y1="483.1" x2="181.6" y2="483.1" stroke="#222" stroke-width="1"/>
<line x1="156.2" y1="468.5" x2="156.2" y2="554.7" stroke="#555" stroke-width="1.4"/>
<line x1="155.5" y1="554" x2="186.9" y2="554" stroke="#555" stroke-width="1.4"/>
<polyline points="164.3,496.2 164.3,478.1 179.7,478.1 179.7,480.8" fill="none" stroke="#222" stroke-width="1.1"/>
<text x="165.65" y="478.72" font-size="9" font-weight="bold" fill="#000" textLength="13.31" lengthAdjust="spacingAndGlyphs" stroke="#000" stroke-width="0.1">***</text>
<text x="157.99" y="465.38" font-size="7" font-weight="bold" fill="#000" textLength="23.02" lengthAdjust="spacingAndGlyphs" stroke="#000" stroke-width="0.1">Mmp-9</text>
<text x="164.69" y="563.9" font-size="7" font-weight="bold" fill="#000" textLength="11.21" lengthAdjust="spacingAndGlyphs" stroke="#000" stroke-width="0.1">BM</text>
<text transform="translate(136.35 550.76) rotate(-90)" font-size="9" font-weight="normal" fill="#000" textLength="79.56" lengthAdjust="spacingAndGlyphs" stroke="#000" stroke-width="0.3">Relative expression</text>
<line x1="161.8" y1="556.3" x2="180.3" y2="556.3" stroke="#333" stroke-width="1.2"/>
<text x="296.5" y="469.8" font-size="7.2" fill="#222" stroke="#222" stroke-width="0.3">0.18</text>
<text x="296.5" y="479.34" font-size="7.2" fill="#222" stroke="#222" stroke-width="0.3">0.16</text>
<text x="296.4" y="488.89" font-size="7.2" fill="#222" stroke="#222" stroke-width="0.3">0.14</text>
<text x="296.55" y="498.43" font-size="7.2" fill="#222" stroke="#222" stroke-width="0.3">0.12</text>
<text x="296.45" y="507.98" font-size="7.2" fill="#222" stroke="#222" stroke-width="0.3">0.10</text>
<text x="296.5" y="517.52" font-size="7.2" fill="#222" stroke="#222" stroke-width="0.3">0.08</text>
<text x="296.5" y="527.07" font-size="7.2" fill="#222" stroke="#222" stroke-width="0.3">0.06</text>
<text x="296.4" y="536.61" font-size="7.2" fill="#222" stroke="#222" stroke-width="0.3">0.04</text>
<text x="296.55" y="546.16" font-size="7.2" fill="#222" stroke="#222" stroke-width="0.3">0.02</text>
<text x="296.45" y="555.7" font-size="7.2" fill="#222" stroke="#222" stroke-width="0.3">0.00</text>
<rect x="330.5" y="553" width="7" height="0.3" fill="#fff" stroke="#111" stroke-width="1"/>
<rect x="342.6" y="490" width="11.4" height="63.3" fill="#000"/>
<rect x="356" y="491" width="10.8" height="62.3" fill="#fff" stroke="#111" stroke-width="1"/>
<line x1="348.9" y1="472.3" x2="348.9" y2="490" stroke="#222" stroke-width="1"/>
<line x1="347.6" y1="472.3" x2="350.2" y2="472.3" stroke="#222" stroke-width="1"/>
<line x1="361.6" y1="485" x2="361.6" y2="490.5" stroke="#222" stroke-width="1"/>
<line x1="360" y1="485" x2="363.2" y2="485" stroke="#222" stroke-width="1"/>
<line x1="314.9" y1="466" x2="314.9" y2="553.85" stroke="#333" stroke-width="1.1"/>
<line x1="314.35" y1="553.3" x2="367.9" y2="553.3" stroke="#333" stroke-width="1.1"/>
<text x="317.79" y="469.9" font-size="7" font-weight="bold" fill="#000" textLength="21.42" lengthAdjust="spacingAndGlyphs" stroke="#000" stroke-width="0.1">Hoxa3</text>
<text x="322.66" y="566.45" font-size="7" font-weight="bold" fill="#000" textLength="11.87" lengthAdjust="spacingAndGlyphs" stroke="#000" stroke-width="0.1">BM</text>
<text x="347.25" y="566.45" font-size="7" font-weight="bold" fill="#000" textLength="16.83" lengthAdjust="spacingAndGlyphs" stroke="#000" stroke-width="0.1">WD7</text>
<text transform="translate(290.15 548.56) rotate(-90)" font-size="9" font-weight="normal" fill="#000" textLength="79.56" lengthAdjust="spacingAndGlyphs" stroke="#000" stroke-width="0.3">Relative expression</text>
<line x1="319.5" y1="558.3" x2="338.5" y2="558.3" stroke="#333" stroke-width="1.2"/>
<line x1="345.1" y1="558.3" x2="365" y2="558.3" stroke="#333" stroke-width="1.2"/>
<text x="394.25" y="469.8" font-size="7.2" fill="#222" stroke="#222" stroke-width="0.3">1.40</text>
<text x="394.25" y="482.06" font-size="7.2" fill="#222" stroke="#222" stroke-width="0.3">1.20</text>
<text x="394.25" y="494.31" font-size="7.2" fill="#222" stroke="#222" stroke-width="0.3">1.00</text>
<text x="394.25" y="506.57" font-size="7.2" fill="#222" stroke="#222" stroke-width="0.3">0.80</text>
<text x="394.25" y="518.83" font-size="7.2" fill="#222" stroke="#222" stroke-width="0.3">0.60</text>
<text x="394.25" y="531.09" font-size="7.2" fill="#222" stroke="#222" stroke-width="0.3">0.40</text>
<text x="394.25" y="543.34" font-size="7.2" fill="#222" stroke="#222" stroke-width="0.3">0.20</text>
<text x="394.25" y="555.6" font-size="7.2" fill="#222" stroke="#222" stroke-width="0.3">0.00</text>
<rect x="412.2" y="499" width="10.3" height="53.8" fill="#000"/>
<rect x="426" y="506.5" width="10.4" height="46.3" fill="#fff" stroke="#111" stroke-width="1"/>
<rect x="440" y="485" width="10.6" height="67.8" fill="#000"/>
<rect x="453.9" y="516.2" width="11.3" height="36.6" fill="#fff" stroke="#111" stroke-width="1"/>
<line x1="417.3" y1="497.7" x2="417.3" y2="499" stroke="#222" stroke-width="1"/>
<line x1="416" y1="497.7" x2="418.6" y2="497.7" stroke="#222" stroke-width="1"/>
<line x1="431.6" y1="503" x2="431.6" y2="506" stroke="#222" stroke-width="1"/>
<line x1="430.1" y1="503" x2="433.1" y2="503" stroke="#222" stroke-width="1"/>
<line x1="444.9" y1="475.1" x2="444.9" y2="485" stroke="#222" stroke-width="1"/>
<line x1="443.3" y1="475.1" x2="446.5" y2="475.1" stroke="#222" stroke-width="1"/>
<line x1="460" y1="504.3" x2="460" y2="515.7" stroke="#222" stroke-width="1"/>
<line x1="458.4" y1="504.3" x2="461.6" y2="504.3" stroke="#222" stroke-width="1"/>
<line x1="410.4" y1="467" x2="410.4" y2="553.6" stroke="#777" stroke-width="1.6"/>
<line x1="409.6" y1="552.8" x2="466.7" y2="552.8" stroke="#777" stroke-width="1.6"/>
<polyline points="444.6,473 444.6,470.4 460.1,470.4 460.1,498.6" fill="none" stroke="#222" stroke-width="1.1"/>
<text x="449.85" y="470.62" font-size="9" font-weight="bold" fill="#000" textLength="4.2" lengthAdjust="spacingAndGlyphs" stroke="#000" stroke-width="0.1">*</text>
<text x="413.19" y="470.2" font-size="7" font-weight="bold" fill="#000" textLength="24.62" lengthAdjust="spacingAndGlyphs" stroke="#000" stroke-width="0.1">Cdc-42</text>
<text x="418.96" y="565.05" font-size="7" font-weight="bold" fill="#000" textLength="11.87" lengthAdjust="spacingAndGlyphs" stroke="#000" stroke-width="0.1">BM</text>
<text x="444.15" y="565.05" font-size="7" font-weight="bold" fill="#000" textLength="15.91" lengthAdjust="spacingAndGlyphs" stroke="#000" stroke-width="0.1">WD7</text>
<text transform="translate(391.25 546.46) rotate(-90)" font-size="9" font-weight="normal" fill="#000" textLength="79.76" lengthAdjust="spacingAndGlyphs" stroke="#000" stroke-width="0.3">Relative expression</text>
<line x1="415.4" y1="557.2" x2="434.4" y2="557.2" stroke="#333" stroke-width="1.2"/>
<line x1="441" y1="557.2" x2="465.7" y2="557.2" stroke="#333" stroke-width="1.2"/>
<text x="50.13" y="601.02" font-size="11" font-weight="normal" fill="#000" textLength="205.58" lengthAdjust="spacingAndGlyphs" stroke="#000" stroke-width="0.3">Non-diabetic-derived Gr-1+ CD11b+ cells</text>
<text x="50.13" y="622.88" font-size="11" font-weight="normal" fill="#000" textLength="182.86" lengthAdjust="spacingAndGlyphs" stroke="#000" stroke-width="0.3">Diabetic-derived Gr-1+ CD11b+ cells</text>
<rect x="28.9" y="581.2" width="241.6" height="50.2" fill="none" stroke="#111" stroke-width="1.1"/>
<rect x="34" y="592.5" width="10" height="10" fill="#000"/>
<rect x="33.9" y="612.6" width="10.4" height="9.6" fill="#fff" stroke="#999" stroke-width="0.9"/>
</svg></body></html>
